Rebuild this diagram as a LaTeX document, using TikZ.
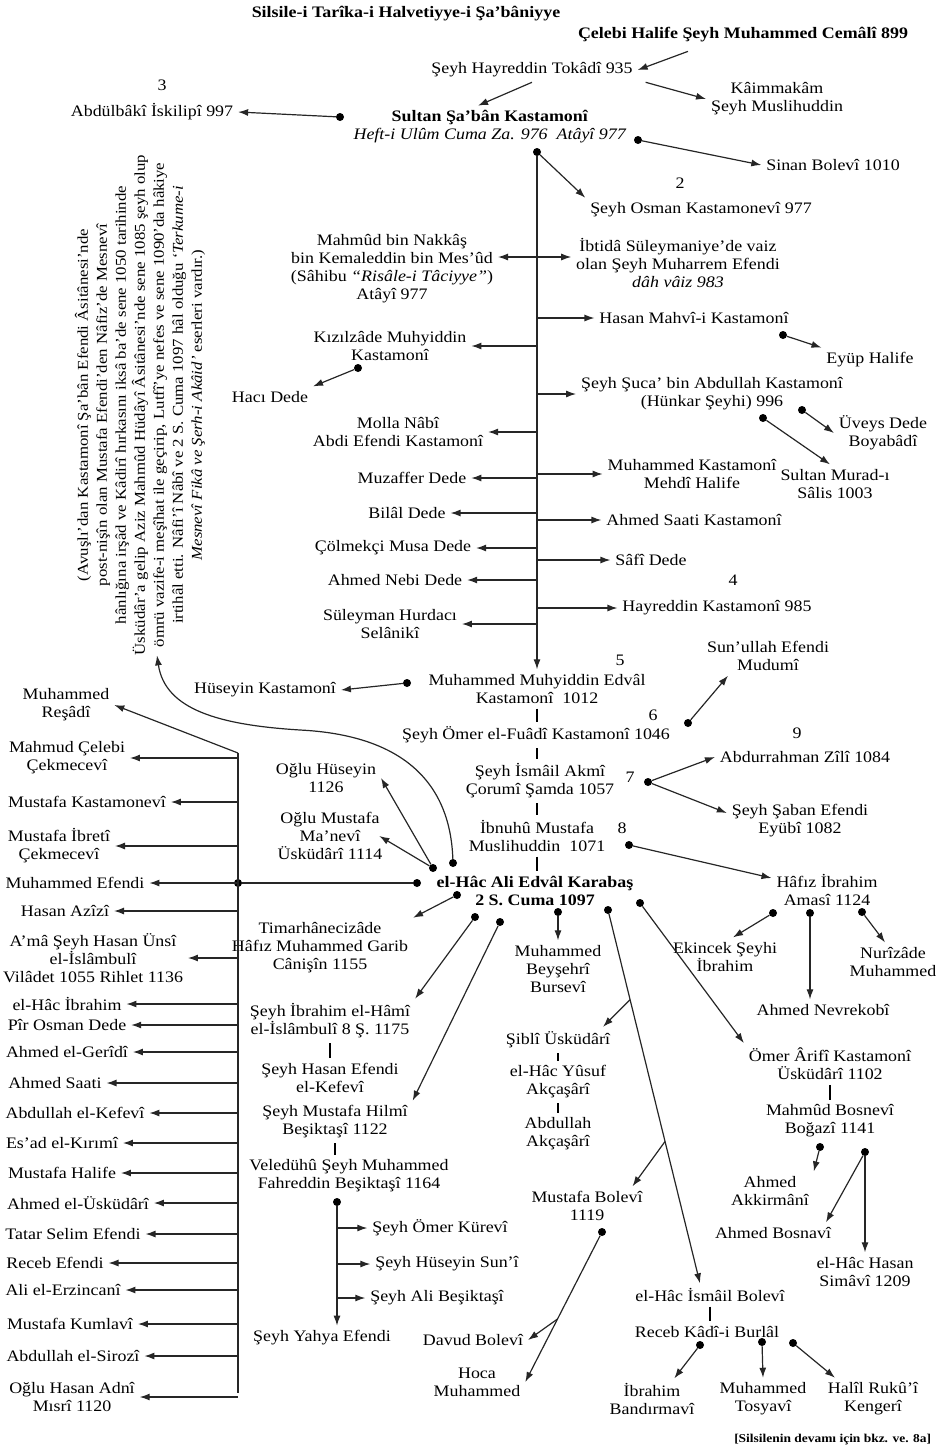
\documentclass[tikz,border=0pt]{standalone}
\usepackage{fontspec}
\setmainfont{Liberation Serif}[FakeStretch=1.12]
\usetikzlibrary{arrows.meta,calc}
\newcommand\txtsize{\fontsize{16}{18}\selectfont}
\newcommand\notesize{\fontsize{15}{19}\selectfont}
\tikzset{
  person/.style={align=center, inner sep=2pt, outer sep=3pt, font=\txtsize},
  heavy/.style={person, font=\txtsize\bfseries},
  num/.style={inner sep=0pt, font=\txtsize},
  dot/.style={circle, fill=black, inner sep=0pt, minimum size=8pt},
  link/.style={line width=1.2pt, black!85},
  arr/.style={link, -{Latex[length=10pt,width=7pt]}},
  succ/.style={line width=1.8pt},
}
\begin{document}
\begin{tikzpicture}[x=1pt,y=-1pt]
\useasboundingbox (0,0) rectangle (938,1456);
% heading
\node[heavy] (title) at (406,14) {Silsile-i Tarîka-i Halvetiyye-i Şa'bâniyye};
\node[heavy] (celebi) at (743,35) {Çelebi Halife Şeyh Muhammed Cemâlî 899};
\node[person] (hayreddin) at (532,70) {Şeyh Hayreddin Tokâdî 935};
\node[person] (kaimmakam) at (777,99) {Kâimmakâm\\Şeyh Muslihuddin};
\node[person] (sultan) at (490,127) {\textbf{Sultan Şa'bân Kastamonî}\\\textit{Heft-i Ulûm Cuma Za. 976 \ Atâyî 977}};
\node[person] (sinan) at (833,165) {Sinan Bolevî 1010};
\node[num] at (162,85) {3};
\node[person] (abdulbaki) at (152,112) {Abdülbâkî İskilipî 997};
\node[num] at (680,183) {2};
\node[person] (osman) at (701,210) {Şeyh Osman Kastamonevî 977};
\node[dot] (dsinan) at (638,140) {};
\node[dot] (dbaki) at (340,117) {};
\node[dot] (dtrunk) at (537,152) {};
\draw[arr] ([xshift=-55pt,yshift=-4pt]celebi.south) -- (hayreddin.east);
\draw[arr] ([xshift=8pt]hayreddin.south east) -- (kaimmakam.west);
\draw[arr] (hayreddin.south) -- ([xshift=-12pt]sultan.north);
\draw[arr] (dsinan) -- (sinan.west);
\draw[arr] (dbaki) -- (abdulbaki.east);
\draw[arr] (dtrunk) -- (osman.north west);

% names to the left of the trunk
\node[person] (mahmud) at (392,269) {Mahmûd bin Nakkâş\\bin Kemaleddin bin Mes'ûd\\(Sâhibu \textit{``Risâle-i Tâciyye''})\\Atâyî 977};
\node[person] (kizilzade) at (390,346) {Kızılzâde Muhyiddin\\Kastamonî};
\node[person] (hacidede) at (270,397) {Hacı Dede};
\node[person] (molla) at (398,432) {Molla Nâbî\\Abdi Efendi Kastamonî};
\node[person] (muzaffer) at (412,478) {Muzaffer Dede};
\node[person] (bilal) at (407,513) {Bilâl Dede};
\node[person] (colmekci) at (393,548) {Çölmekçi Musa Dede};
\node[person] (nebi) at (395,580) {Ahmed Nebi Dede};
\node[person] (suleyman) at (390,624) {Süleyman Hurdacı\\Selânikî};
\node[dot] (dkizil) at (358,368) {};

% names to the right of the trunk
\node[person] (ibtida) at (678,263) {İbtidâ Süleymaniye'de vaiz\\olan Şeyh Muharrem Efendi\\\textit{dâh vâiz 983}};
\node[person] (mahvi) at (694,318) {Hasan Mahvî-i Kastamonî};
\node[person] (eyup) at (870,360) {Eyüp Halife};
\node[person] (suca) at (712,394) {Şeyh Şuca' bin Abdullah Kastamonî\\(Hünkar Şeyhi) 996};
\node[person] (uveys) at (883,433) {Üveys Dede\\Boyabâdî};
\node[person] (murad) at (835,484) {Sultan Murad-ı\\Sâlis 1003};
\node[person] (mehdi) at (692,474) {Muhammed Kastamonî\\Mehdî Halife};
\node[person] (saati) at (694,520) {Ahmed Saati Kastamonî};
\node[person] (safi) at (651,560) {Sâfî Dede};
\node[num] at (733,580) {4};
\node[person] (hayreddink) at (717,608) {Hayreddin Kastamonî 985};
\node[dot] (dmahvi) at (783,335) {};
\node[dot] (duveys) at (802,410) {};
\node[dot] (dmurad) at (763,418) {};

% the line of succession
\node[num] at (620,660) {5};
\node[person] (edval) at (537,689) {Muhammed Muhyiddin Edvâl\\Kastamonî \ 1012};
\node[person] (huseyink) at (265,690) {Hüseyin Kastamonî};
\node[person] (sunullah) at (768,656) {Sun'ullah Efendi\\Mudumî};
\node[num] at (653,715) {6};
\node[person] (omer) at (536,735) {Şeyh Ömer el-Fuâdî Kastamonî 1046};
\node[person] (ismail) at (540,781) {Şeyh İsmâil Akmî\\Çorumî Şamda 1057};
\node[num] at (630,777) {7};
\node[num] at (797,733) {9};
\node[person] (zili) at (805,757) {Abdurrahman Zîlî 1084};
\node[person] (saban) at (800,821) {Şeyh Şaban Efendi\\Eyübî 1082};
\node[person] (ibnuhu) at (537,836) {İbnuhû Mustafa\\Muslihuddin \ 1071};
\node[num] at (622,828) {8};
\node[person] (hafiz) at (827,890) {Hâfız İbrahim\\Amasî 1124};
\node[heavy] (ali) at (535,891) {el-Hâc Ali Edvâl Karabaş\\2 S. Cuma 1097};
\node[dot] (dhuseyin) at (407,683) {};
\node[dot] (dsix) at (688,723) {};
\node[dot] (dseven) at (648,782) {};
\node[dot] (deight) at (629,845) {};

% trunk and its branches
\draw[arr] (dtrunk) -- (edval.north);
\foreach \n in {kizilzade,molla,muzaffer,bilal,colmekci,nebi,suleyman}
  \draw[arr] (dtrunk |- \n.east) -- (\n.east);
\foreach \n in {mahvi,suca,mehdi,saati,safi,hayreddink}
  \draw[arr] (dtrunk |- \n.west) -- (\n.west);
\coordinate (tmahmud) at ($(mahmud.east)+(0,-12)$);
\coordinate (tibtida) at ($(ibtida.west)+(0,-6)$);
\draw[arr] (dtrunk |- tmahmud) -- (tmahmud);
\draw[arr] (dtrunk |- tibtida) -- (tibtida);
\draw[arr] (dkizil) -- (hacidede.north east);
\draw[arr] (dmahvi) -- (eyup.north west);
\draw[arr] (duveys) -- (uveys.west);
\draw[arr] (dmurad) -- ([xshift=-5pt]murad.north);

\draw[succ] (edval.south) -- (edval.south |- omer.north);
\draw[succ] (edval.south |- omer.south) -- (edval.south |- ismail.north);
\draw[succ] (edval.south |- ismail.south) -- (edval.south |- ibnuhu.north);
\draw[succ] (edval.south |- ibnuhu.south) -- (edval.south |- ali.north);
\draw[arr] (dhuseyin) -- (huseyink.east);
\draw[arr] (dsix) -- ([xshift=-40pt]sunullah.south);
\draw[arr] (dseven) -- (zili.west);
\draw[arr] (dseven) -- ([yshift=8pt]saban.west);
\draw[arr] (deight) -- ([yshift=12pt]hafiz.west);

% Hafiz Ibrahim
\node[person] (ekincek) at (725,957) {Ekincek Şeyhi\\İbrahim};
\node[person] (nevrekobi) at (823,1010) {Ahmed Nevrekobî};
\node[person] (nurizade) at (893,962) {Nurîzâde\\Muhammed};
\node[dot] (dh1) at (773,913) {};
\node[dot] (dh2) at (810,913) {};
\node[dot] (dh3) at (862,912) {};
\draw[arr] (dh1) -- ([xshift=8pt]ekincek.north);
\draw[arr] (dh2) -- (dh2 |- nevrekobi.north);
\draw[arr] (dh3) -- ([xshift=-8pt]nurizade.north);

% note
\node[rotate=90, align=center, font=\notesize, inner sep=0pt] (note) at (140,405) {(Avuşlı'dan Kastamonî Şa'bân Efendi Âsitânesi'nde\\post-nişîn olan Mustafa Efendi'den Nâfiz'de Mesnevî\\hânlığına irşâd ve Kâdirî hırkasını iksâ ba'de sene 1050 tarihinde\\Üsküdâr'a gelip Aziz Mahmûd Hüdâyî Âsitânesi'nde sene 1085 şeyh olup\\ömrü vazife-i meşîhat ile geçirip, Lutfî'ye nefes ve sene 1090'da hâkiye\\irtihâl etti. Nâfi'î Nâbî ve 2 S. Cuma 1097 hâl olduğu \textit{`Terkume-i}\\\textit{Mesnevî Fikâ ve Şerh-i Akâid'} eserleri vardır.)};

% around el-Hac Ali
\node[person] (oglhuseyin) at (326,778) {Oğlu Hüseyin\\1126};
\node[person] (oglmustafa) at (330,836) {Oğlu Mustafa\\Ma'nevî\\Üsküdârî 1114};
\node[person] (timar) at (320,948) {Timarhânecizâde\\Hâfız Muhammed Garib\\Cânişîn 1155};
\node[person] (hami) at (330,1021) {Şeyh İbrahim el-Hâmî\\el-İslâmbulî 8 Ş. 1175};
\node[person] (hasanef) at (330,1078) {Şeyh Hasan Efendi\\el-Kefevî};
\node[person] (hilmi) at (335,1122) {Şeyh Mustafa Hilmî\\Beşiktaşî 1122};
\node[person] (fahreddin) at (349,1176) {Veledühû Şeyh Muhammed\\Fahreddin Beşiktaşî 1164};
\node[person] (kurevi) at (440,1228) {Şeyh Ömer Kürevî};
\node[person] (suni) at (447,1264) {Şeyh Hüseyin Sun'î};
\node[person] (besiktasi) at (437,1298) {Şeyh Ali Beşiktaşî};
\node[person] (yahya) at (322,1338) {Şeyh Yahya Efendi};
\node[person] (beysehri) at (558,969) {Muhammed\\Beyşehrî\\Bursevî};
\node[person] (sibli) at (558,1040) {Şiblî Üsküdârî};
\node[person] (yusuf) at (558,1082) {el-Hâc Yûsuf\\Akçaşârî};
\node[person] (abdullah) at (558,1134) {Abdullah\\Akçaşârî};
\node[person] (bolevi) at (587,1206) {Mustafa Bolevî\\1119};
\node[person] (davud) at (473,1340) {Davud Bolevî};
\node[person] (hoca) at (477,1382) {Hoca\\Muhammed};
\node[person] (ismailb) at (710,1295) {el-Hâc İsmâil Bolevî};
\node[person] (receb) at (707,1332) {Receb Kâdî-i Burlâl};
\node[person] (bandirma) at (652,1399) {İbrahim\\Bandırmavî};
\node[person] (tosyavi) at (763,1399) {Muhammed\\Tosyavî};
\node[person] (halil) at (873,1399) {Halîl Rukû'î\\Kengerî};
\node[person] (arifi) at (830,1064) {Ömer Ârifî Kastamonî\\Üsküdârî 1102};
\node[person] (bosnevi) at (830,1121) {Mahmûd Bosnevî\\Boğazî 1141};
\node[person] (akkirmani) at (770,1191) {Ahmed\\Akkirmânî};
\node[person] (bosnavi) at (773,1233) {Ahmed Bosnavî};
\node[person] (simavi) at (865,1272) {el-Hâc Hasan\\Simâvî 1209};
\node[dot] (dleft) at (417,883) {};
\node[dot] (dsons) at (433,868) {};
\node[dot] (dnote) at (453,863) {};
\node[dot] (dtimar) at (457,895) {};
\node[dot] (dhami) at (475,917) {};
\node[dot] (dhilmi) at (500,922) {};
\node[dot] (dbeys) at (558,912) {};
\node[dot] (dsibli) at (608,910) {};
\node[dot] (darifi) at (640,903) {};
\node[dot] (dfahr) at (337,1202) {};
\node[dot] (dbolevi) at (602,1232) {};
\node[dot] (dr1) at (700,1345) {};
\node[dot] (dr2) at (762,1342) {};
\node[dot] (dr3) at (793,1343) {};
\node[dot] (dmb1) at (820,1147) {};
\node[dot] (dmb2) at (865,1152) {};
\draw[arr] (dsons) -- (oglhuseyin.east);
\draw[arr] (dsons) -- ([xshift=-8pt]oglmustafa.east);
\draw[arr] (dnote) .. controls (450,780) and (400,735) .. (300,730)
  .. controls (220,725) and (165,710) .. ([xshift=17pt]note.west);
\draw[arr] (dtimar) -- (timar.north east);
\draw[arr] (dhami) -- (hami.north east);
\draw[arr] (dhilmi) -- (hilmi.north east);
\draw[succ] (hami.south) -- (hasanef.north);
\draw[succ] (hilmi.south) -- (hilmi.south |- fahreddin.north);
\draw[arr] (dfahr) -- (dfahr |- yahya.north);
\foreach \n in {kurevi,suni,besiktasi}
  \draw[arr] (dfahr |- \n.west) -- (\n.west);
\draw[arr] (dbeys) -- (beysehri.north);
\coordinate (tismail) at ([xshift=-10pt]ismailb.north);
\draw[arr] (dsibli) -- (tismail);
\draw[arr] ($(dsibli)!0.24!(tismail)$) -- ([xshift=-12pt]sibli.north east);
\draw[arr] ($(dsibli)!0.62!(tismail)$) -- ([xshift=-15pt]bolevi.north east);
\draw[succ] (sibli.south) -- (yusuf.north);
\draw[succ] (yusuf.south) -- (abdullah.north);
\draw[arr] (dbolevi) -- (hoca.east);
\draw[arr] ($(dbolevi)!0.58!(hoca.east)$) -- (davud.east);
\draw[succ] (ismailb.south) -- (ismailb.south |- receb.north);
\draw[arr] (dr1) -- ([xshift=-25pt]bandirma.north east);
\draw[arr] (dr2) -- (tosyavi.north);
\draw[arr] (dr3) -- ([xshift=12pt]halil.north west);
\draw[arr] (darifi) -- (arifi.north west);
\draw[succ] (arifi.south) -- (bosnevi.north);
\draw[arr] (dmb1) -- (akkirmani.north east);
\draw[arr] (dmb2) -- ([xshift=-10pt]bosnavi.north east);
\draw[arr] (dmb2) -- (simavi.north);

% left column
\node[person] (resadi) at (66,705) {Muhammed\\Reşâdî};
\node[person] (cekmecevi) at (67,758) {Mahmud Çelebi\\Çekmecevî};
\node[person] (kastamonevi) at (87,802) {Mustafa Kastamonevî};
\node[person] (ibreti) at (59,846) {Mustafa İbretî\\Çekmecevî};
\node[person] (mefendi) at (75,883) {Muhammed Efendi};
\node[person] (azizi) at (65,911) {Hasan Azîzî};
\node[person] (unsi) at (93,958) {A'mâ Şeyh Hasan Ünsî\\el-İslâmbulî\\Vilâdet 1055 Rihlet 1136};
\node[person] (hacibrahim) at (67,1004) {el-Hâc İbrahim};
\node[person] (pirosman) at (67,1025) {Pîr Osman Dede};
\node[person] (geridi) at (67,1052) {Ahmed el-Gerîdî};
\node[person] (saatil) at (55,1083) {Ahmed Saati};
\node[person] (kefevi) at (75,1113) {Abdullah el-Kefevî};
\node[person] (kirimi) at (62,1143) {Es'ad el-Kırımî};
\node[person] (halife) at (62,1173) {Mustafa Halife};
\node[person] (uskudari) at (78,1203) {Ahmed el-Üsküdârî};
\node[person] (tatar) at (73,1234) {Tatar Selim Efendi};
\node[person] (recebl) at (55,1263) {Receb Efendi};
\node[person] (erzincani) at (63,1290) {Ali el-Erzincanî};
\node[person] (kumlavi) at (70,1324) {Mustafa Kumlavî};
\node[person] (sirozi) at (73,1356) {Abdullah el-Sirozî};
\node[person] (adni) at (72,1397) {Oğlu Hasan Adnî\\Mısrî 1120};
\coordinate (btop) at (238,753);
\coordinate (bbot) at (238,1393);
\node[dot] (junction) at (238,883) {};
\draw[link] (btop) -- (bbot);
\draw[link] (junction) -- (dleft);
\draw[arr] (btop) -- (resadi.east);
\foreach \n in {cekmecevi,kastamonevi,ibreti,mefendi,azizi,unsi,hacibrahim,pirosman,geridi,saatil,kefevi,kirimi,halife,uskudari,tatar,recebl,erzincani,kumlavi,sirozi,adni}
  \draw[arr] (btop |- \n.east) -- (\n.east);

% footer
\node[person, anchor=east, font=\fontsize{12}{14}\selectfont\bfseries] (footer) at (936,1440) {[Silsilenin devamı için bkz. ve. 8a]};
\end{tikzpicture}
\end{document}
